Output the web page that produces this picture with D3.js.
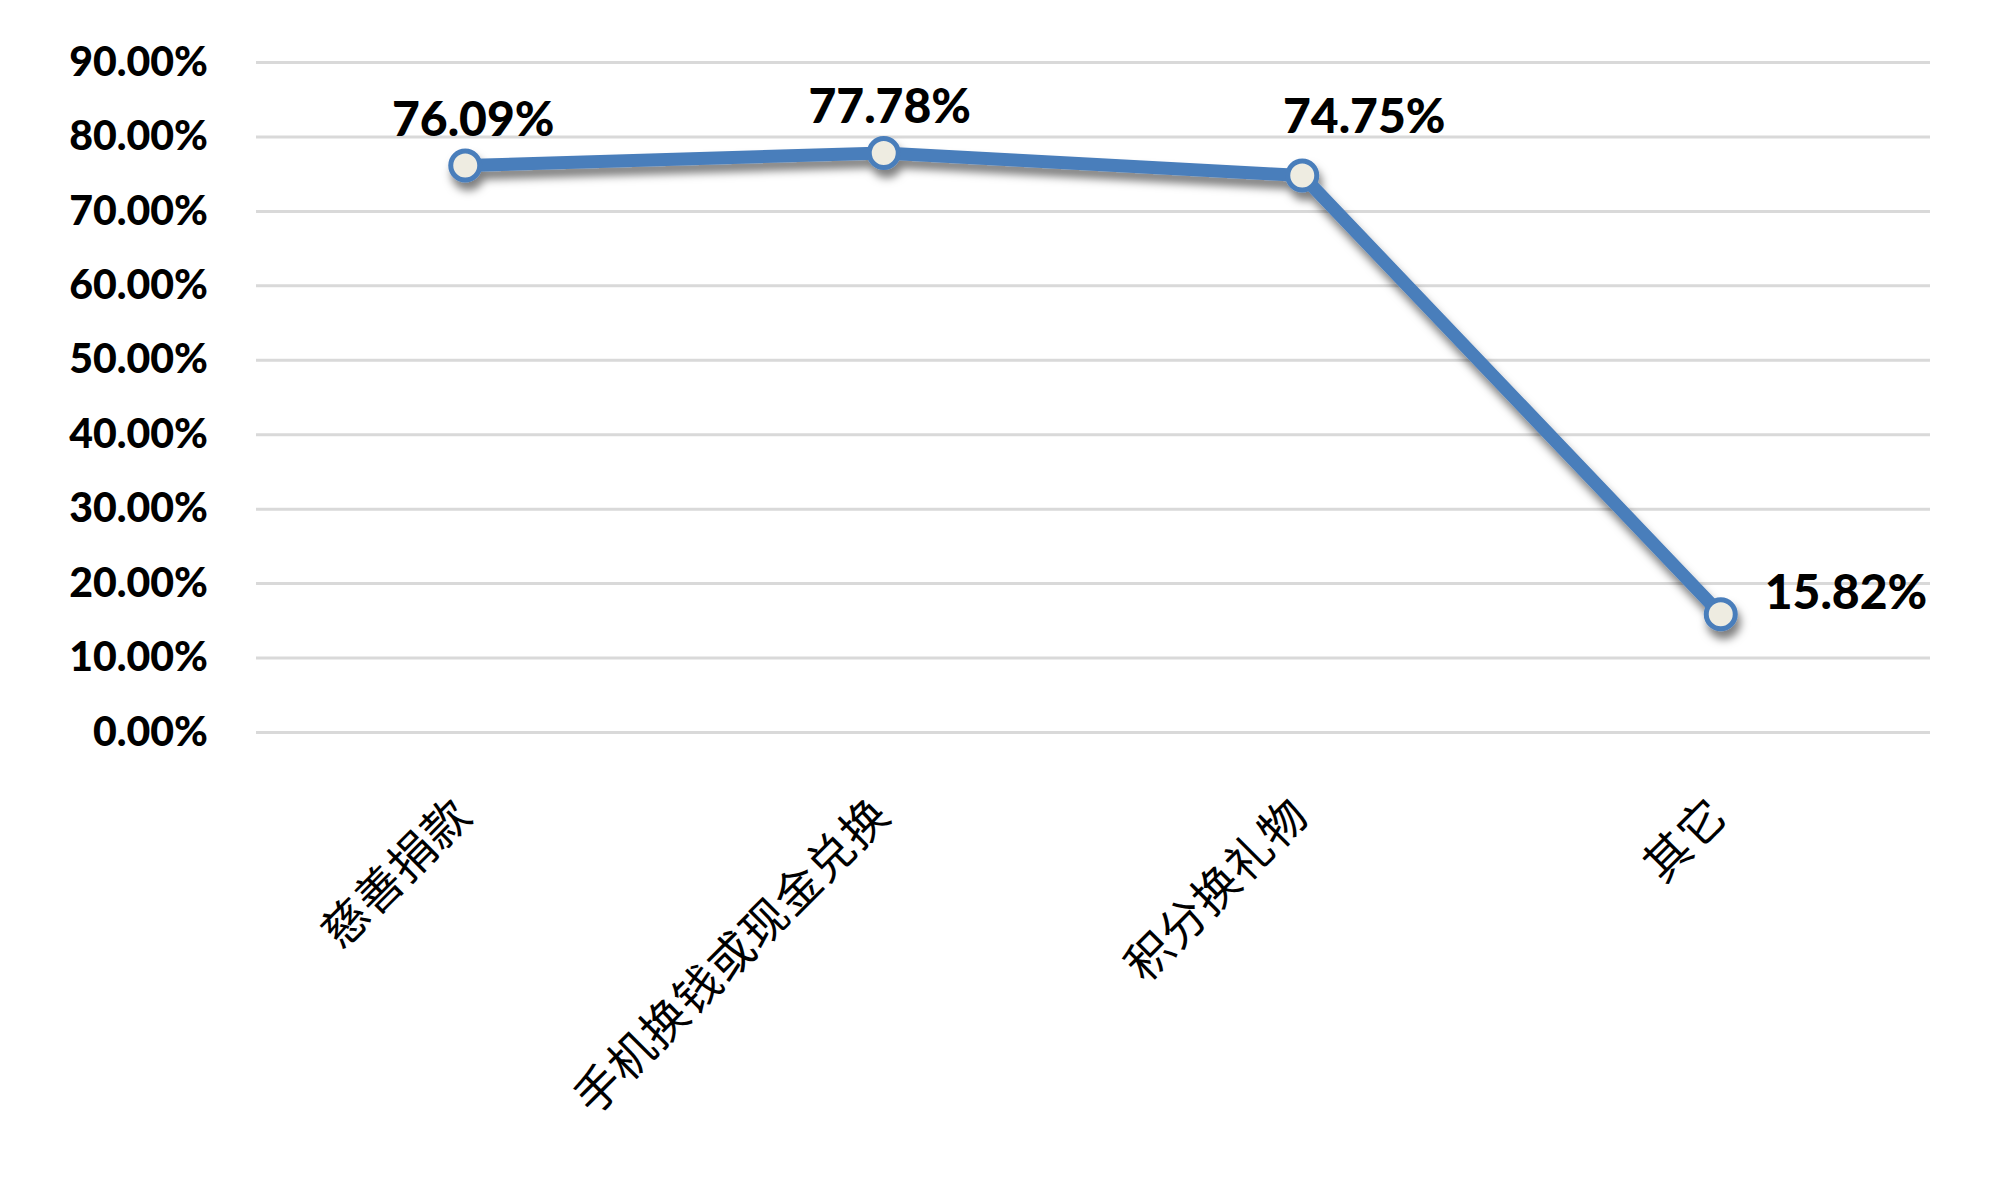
<!DOCTYPE html>
<html>
<head>
<meta charset="utf-8">
<script src="https://d3js.org/d3.v7.min.js"></script>
<style>
  body { margin: 0; background: #fff; }
</style>
</head>
<body>
<script>
// chart data
var categories = ["慈善捐款", "手机换钱或现金兑换", "积分换礼物", "其它"];
var values = [76.09, 77.78, 74.75, 15.82];
var yTicks = [0, 10, 20, 30, 40, 50, 60, 70, 80, 90];

// label nudges (dx, dy) in px, like excel put them
var labelShift = [[8, -30], [6, -30], [62, -43], [44, -5]];

// canvas resolution
var width = 2000,
    height = 1198;

var margin = {top: 62, right: 70, bottom: 466, left: 256};

var svg = d3.select("body").append("svg")
    .attr("width", width)
    .attr("height", height);

// soft shadow under the line
var defs = svg.append("defs");
var shadow = defs.append("filter")
    .attr("id", "shadow")
    .attr("x", "-20%").attr("y", "-20%")
    .attr("width", "140%").attr("height", "160%");
shadow.append("feDropShadow")
    .attr("dx", 3).attr("dy", 8)
    .attr("stdDeviation", 4)
    .attr("flood-color", "#000")
    .attr("flood-opacity", 0.5);

var x = d3.scaleBand()
    .domain(categories)
    .range([margin.left, width - margin.right]);

var y = d3.scaleLinear()
    .domain([0, 90])
    .range([height - margin.bottom, margin.top]);

// gridlines + y labels
var yAxis = d3.axisLeft(y)
    .tickValues(yTicks)
    .tickSize(-(width - margin.left - margin.right))
    .tickPadding(48)
    .tickFormat(function(d){ return d.toFixed(2) + "%"; });

var gy = svg.append("g")
    .attr("transform", "translate(" + margin.left + ",0)")
    .call(yAxis);
gy.select(".domain").remove();
gy.selectAll(".tick line")
    .attr("stroke", "#d9d9d9")
    .attr("stroke-width", 3);
gy.selectAll(".tick text")
    .attr("fill", "#000")
    .style("font-family", "Lato, 'Open Sans', sans-serif")
    .style("font-weight", "900")
    .style("font-size", "41px");

// x labels, rotated
var xAxis = d3.axisBottom(x).tickSize(0).tickPadding(0);
var gx = svg.append("g")
    .attr("transform", "translate(0," + (height - margin.bottom) + ")")
    .call(xAxis);
gx.select(".domain").remove();
gx.selectAll(".tick text")
    .attr("fill", "#000")
    .attr("text-anchor", "end")
    .attr("dy", 0)
    .attr("transform", "translate(9,86) rotate(-45)")
    .style("font-family", "'Noto Sans CJK SC', sans-serif")
    .style("font-size", "46px")
    .style("letter-spacing", "1px");

// the line
var line = d3.line()
    .x(function(d, i){ return x(categories[i]) + x.bandwidth() / 2; })
    .y(function(d){ return y(d); });

var g = svg.append("g").attr("filter", "url(#shadow)");

g.append("path")
    .datum(values)
    .attr("d", line)
    .attr("fill", "none")
    .attr("stroke", "#4a7ebb")
    .attr("stroke-width", 13)
    .attr("stroke-linejoin", "round");

g.selectAll("circle")
    .data(values)
  .enter()
    .append("circle")
    .attr("cx", function(d, i){ return x(categories[i]) + x.bandwidth() / 2; })
    .attr("cy", function(d){ return y(d); })
    .attr("r", 14.5)
    .attr("fill", "#eeece1")
    .attr("stroke", "#4a7ebb")
    .attr("stroke-width", 5);

// data labels: above, last one to the right
svg.selectAll(".lbl")
    .data(values)
  .enter()
    .append("text")
    .attr("class", "lbl")
    .attr("x", function(d, i){
        return x(categories[i]) + x.bandwidth() / 2 + labelShift[i][0];
    })
    .attr("y", function(d, i){ return y(d) + labelShift[i][1]; })
    .attr("text-anchor", function(d, i){ return i == values.length - 1 ? "start" : "middle"; })
    .attr("fill", "#000")
    .style("font-family", "Lato, 'Open Sans', sans-serif")
    .style("font-weight", "900")
    .style("font-size", "48px")
    .text(function(d){ return d.toFixed(2) + "%"; });
</script>
</body>
</html>
